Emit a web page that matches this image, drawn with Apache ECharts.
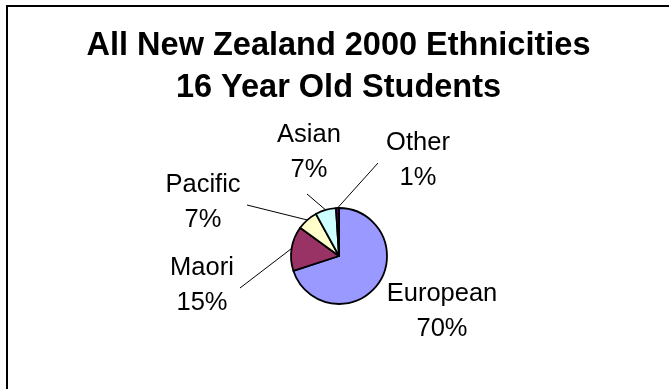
<!DOCTYPE html>
<html>
<head>
<meta charset="utf-8">
<script src="https://cdn.jsdelivr.net/npm/echarts@6/dist/echarts.min.js"></script>
<style>
  html, body { margin: 0; padding: 0; background: #ffffff; }
  #chart { width: 669px; height: 389px; }
</style>
</head>
<body>
<div id="chart"></div>
<script>
// Ethnic mix of 16 year old students, New Zealand 2000 (percent)
const categories = ['European', 'Maori', 'Pacific', 'Asian', 'Other'];
const shares = [70, 15, 7, 7, 1];
const sliceColors = ['#9999FF', '#993366', '#FFFFCC', '#CCFFFF', '#660066'];

// where each label sits (centre of its two-line block) and where its leader line ends
const labelSpots = [[442, 311], [202, 285], [203, 202], [309, 152], [418, 160]];
const leaderEnds = [null, [240, 288], [247, 205], [307, 194], [378, 163]];

const chart = echarts.init(document.getElementById('chart'), null, { renderer: 'canvas' });

chart.setOption({
  backgroundColor: '#ffffff',
  animation: false,
  title: {
    text: 'All New Zealand 2000 Ethnicities\n16 Year Old Students',
    left: 333.5,
    textAlign: 'center',
    top: 20,
    textStyle: {
      fontFamily: 'Liberation Sans, Arial, sans-serif',
      fontSize: 32.5,
      fontWeight: 'bold',
      color: '#000000',
      lineHeight: 42
    }
  },
  graphic: [{
    type: 'rect',
    shape: { x: 7, y: 6, width: 700, height: 420 },
    style: { fill: 'none', stroke: '#000000', lineWidth: 2 },
    silent: true,
    z: 0
  }],
  series: [{
    type: 'pie',
    center: [339, 256],
    radius: 48,
    startAngle: 90,
    clockwise: true,
    avoidLabelOverlap: false,
    data: categories.map((name, i) => ({
      name: name,
      value: shares[i],
      itemStyle: { color: sliceColors[i] },
      labelLine: { show: leaderEnds[i] !== null }
    })),
    itemStyle: { borderColor: '#000000', borderWidth: 1.8 },
    label: {
      show: true,
      position: 'outside',
      formatter: '{b}\n{c}%',
      fontFamily: 'Liberation Sans, Arial, sans-serif',
      fontSize: 25.5,
      lineHeight: 35,
      color: '#000000',
      align: 'center'
    },
    labelLine: {
      show: true,
      length: 10,
      length2: 10,
      lineStyle: { color: '#000000', width: 1 }
    },
    labelLayout: function (params) {
      const i = params.dataIndex;
      const spot = labelSpots[i];
      const out = {
        x: spot[0],
        y: spot[1],
        align: 'center',
        verticalAlign: 'middle'
      };
      const end = leaderEnds[i];
      if (end && params.labelLinePoints) {
        const start = params.labelLinePoints[0];
        out.labelLinePoints = [start, end, end];
      }
      return out;
    }
  }]
});
</script>
</body>
</html>
